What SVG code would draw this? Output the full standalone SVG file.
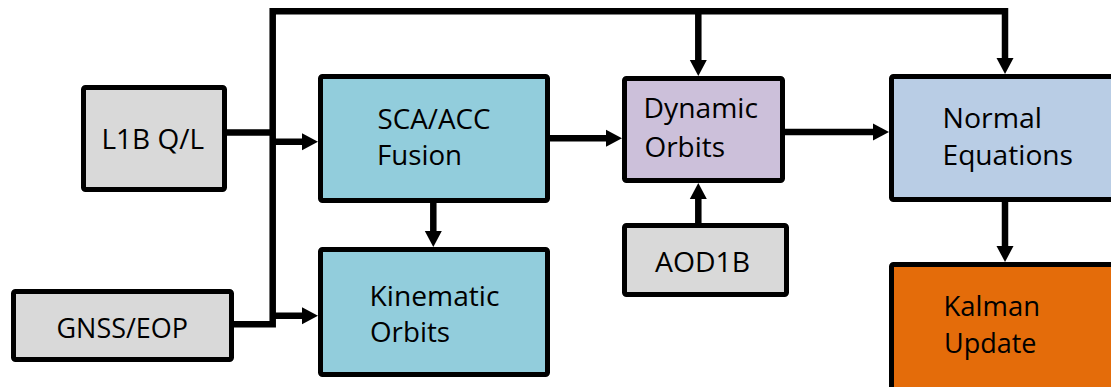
<svg xmlns="http://www.w3.org/2000/svg" width="1111" height="387" viewBox="0 0 1111 387">
  <style>
    .box { stroke: #000; stroke-width: 5; stroke-linejoin: round; }
    .gray { fill: #D9D9D9; }
    .cyan { fill: #92CDDC; }
    .lilac { fill: #CCC0DA; }
    .steel { fill: #B9CDE5; }
    .orange { fill: #E46C0A; }
    .lbl { font-family: "Open Sans", "Liberation Sans", sans-serif; font-size: 27.5px; fill: #000; }
    .wire { fill: none; stroke: #000; stroke-width: 6.5; stroke-linejoin: miter; }
  </style>
  <defs>
    <marker id="head" markerUnits="userSpaceOnUse" markerWidth="17" markerHeight="18" refX="6" refY="8.5" orient="auto" overflow="visible">
      <path d="M0,0 L16,8.5 L0,17 Z" fill="#000"/>
    </marker>
  </defs>

  <rect width="1111" height="387" fill="#fff"/>

  <g id="connectors">
    <!-- shared input bus and top feed line -->
    <path class="wire" d="M227,132.5 H272.7 M234,324.2 H272.7 V11.2 H1005"/>
    <path class="wire" d="M698.3,11.2 V66" marker-end="url(#head)"/>
    <path class="wire" d="M1005,8 V64" marker-end="url(#head)"/>
    <!-- bus to fusion and kinematic -->
    <path class="wire" d="M272.7,141.7 H308" marker-end="url(#head)"/>
    <path class="wire" d="M272.7,315.8 H308" marker-end="url(#head)"/>
    <!-- fusion to kinematic -->
    <path class="wire" d="M433.3,203 V237" marker-end="url(#head)"/>
    <!-- fusion to dynamic -->
    <path class="wire" d="M550,138.3 H612" marker-end="url(#head)"/>
    <!-- AOD1B to dynamic -->
    <path class="wire" d="M698.3,223 V193" marker-end="url(#head)"/>
    <!-- dynamic to normal equations -->
    <path class="wire" d="M785,132 H879" marker-end="url(#head)"/>
    <!-- normal equations to Kalman update -->
    <path class="wire" d="M1005,202 V252" marker-end="url(#head)"/>
  </g>

  <g id="l1b">
    <rect class="box gray" x="83.5" y="87.5" width="141" height="102" rx="2"/>
    <text class="lbl" x="101.5" y="149" textLength="102.5" lengthAdjust="spacingAndGlyphs">L1B Q/L</text>
  </g>

  <g id="gnss">
    <rect class="box gray" x="13.5" y="291.5" width="218" height="68" rx="2"/>
    <text class="lbl" x="56.5" y="337.5" textLength="131.5" lengthAdjust="spacingAndGlyphs">GNSS/EOP</text>
  </g>

  <g id="fusion">
    <rect class="box cyan" x="320.5" y="76.5" width="227" height="124" rx="2"/>
    <text class="lbl" x="377.5" y="129" textLength="113" lengthAdjust="spacingAndGlyphs">SCA/ACC</text>
    <text class="lbl" x="377" y="165" textLength="85" lengthAdjust="spacingAndGlyphs">Fusion</text>
  </g>

  <g id="kinematic">
    <rect class="box cyan" x="320.5" y="249.5" width="227" height="125" rx="2"/>
    <text class="lbl" x="369.5" y="306" textLength="130" lengthAdjust="spacingAndGlyphs">Kinematic</text>
    <text class="lbl" x="370" y="342" textLength="80" lengthAdjust="spacingAndGlyphs">Orbits</text>
  </g>

  <g id="dynamic">
    <rect class="box lilac" x="624.5" y="78.5" width="158" height="102" rx="2"/>
    <text class="lbl" x="643.5" y="118" textLength="114.5" lengthAdjust="spacingAndGlyphs">Dynamic</text>
    <text class="lbl" x="644.5" y="157" textLength="80.5" lengthAdjust="spacingAndGlyphs">Orbits</text>
  </g>

  <g id="aod1b">
    <rect class="box gray" x="624.5" y="225.5" width="162" height="69" rx="2"/>
    <text class="lbl" x="655" y="272" textLength="95" lengthAdjust="spacingAndGlyphs">AOD1B</text>
  </g>

  <g id="normal">
    <rect class="box steel" x="891.5" y="76.5" width="260" height="123" rx="2"/>
    <text class="lbl" x="942.5" y="128" textLength="99.5" lengthAdjust="spacingAndGlyphs">Normal</text>
    <text class="lbl" x="942.5" y="165" textLength="130.5" lengthAdjust="spacingAndGlyphs">Equations</text>
  </g>

  <g id="kalman">
    <rect class="box orange" x="891.5" y="264.5" width="260" height="160" rx="2"/>
    <text class="lbl" x="943.5" y="316" textLength="96.5" lengthAdjust="spacingAndGlyphs">Kalman</text>
    <text class="lbl" x="944" y="353" textLength="92.5" lengthAdjust="spacingAndGlyphs">Update</text>
  </g>
</svg>
